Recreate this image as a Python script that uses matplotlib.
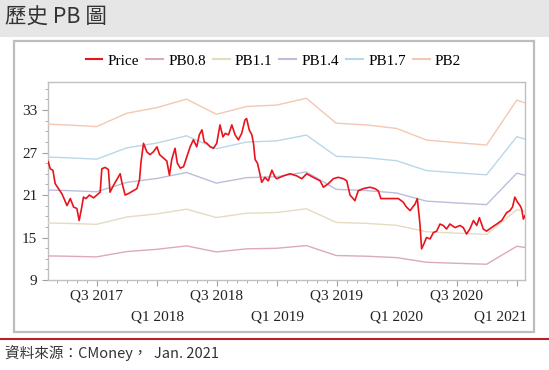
import matplotlib
matplotlib.use("Agg")
import matplotlib.pyplot as plt
import matplotlib.dates as mdates
import matplotlib.transforms as mtransforms
from matplotlib.patches import Rectangle
from matplotlib.lines import Line2D
from matplotlib.ticker import MultipleLocator
import pandas as pd

# price (roughly every 1-2 weeks)
price_dates = [
    "2017-02-03", "2017-02-09", "2017-02-17", "2017-02-24", "2017-03-06", "2017-03-16",
    "2017-03-21", "2017-04-01", "2017-04-11", "2017-04-21", "2017-05-01", "2017-05-08",
    "2017-05-16", "2017-05-21", "2017-05-29", "2017-06-08", "2017-06-21", "2017-07-01",
    "2017-07-11", "2017-07-16", "2017-07-26", "2017-08-05", "2017-08-10", "2017-08-21",
    "2017-08-31", "2017-09-10", "2017-09-15", "2017-09-25", "2017-10-05", "2017-10-16",
    "2017-10-31", "2017-11-08", "2017-11-12", "2017-11-20", "2017-11-30", "2017-12-10",
    "2017-12-20", "2017-12-31", "2018-01-08", "2018-01-20", "2018-01-30", "2018-02-07",
    "2018-02-14", "2018-02-24", "2018-03-03", "2018-03-12", "2018-03-22", "2018-04-01",
    "2018-04-11", "2018-04-21", "2018-05-01", "2018-05-09", "2018-05-17", "2018-05-24",
    "2018-06-01", "2018-06-11", "2018-06-21", "2018-07-01", "2018-07-11", "2018-07-20",
    "2018-07-27", "2018-08-06", "2018-08-16", "2018-08-26", "2018-09-05", "2018-09-15",
    "2018-09-25", "2018-09-30", "2018-10-08", "2018-10-16", "2018-10-21", "2018-10-26",
    "2018-11-02", "2018-11-08", "2018-11-15", "2018-11-25", "2018-12-05", "2018-12-16",
    "2018-12-26", "2018-12-31", "2019-01-20", "2019-02-09", "2019-03-02", "2019-03-17",
    "2019-04-01", "2019-04-21", "2019-05-12", "2019-05-22", "2019-06-06", "2019-06-21",
    "2019-07-06", "2019-07-22", "2019-08-01", "2019-08-11", "2019-08-26", "2019-09-05",
    "2019-09-20", "2019-10-11", "2019-10-26", "2019-11-05", "2019-11-13", "2019-12-01",
    "2019-12-21", "2020-01-05", "2020-01-20", "2020-01-30", "2020-02-10", "2020-02-18",
    "2020-02-25", "2020-03-03", "2020-03-11", "2020-03-16", "2020-03-23", "2020-03-31",
    "2020-04-11", "2020-04-21", "2020-05-01", "2020-05-11", "2020-05-21", "2020-05-31",
    "2020-06-10", "2020-06-26", "2020-07-11", "2020-07-21", "2020-07-31", "2020-08-10",
    "2020-08-21", "2020-08-31", "2020-09-08", "2020-09-20", "2020-09-30", "2020-10-15",
    "2020-10-31", "2020-11-15", "2020-11-30", "2020-12-10", "2020-12-18", "2020-12-25",
    "2021-01-02", "2021-01-10", "2021-01-15", "2021-01-20", "2021-01-25",
]
price = [
    25.7, 24.7, 24.5, 22.6, 21.9, 21.2,
    20.7, 19.5, 20.5, 19.3, 19.1, 17.4,
    19.3, 20.7, 20.5, 21.0, 20.6, 21.0,
    21.4, 24.7, 24.9, 24.6, 21.4, 22.4,
    23.2, 24.0, 22.8, 21.0, 21.2, 21.5,
    21.9, 23.2, 25.5, 28.3, 27.1, 26.7,
    27.1, 27.8, 26.7, 26.2, 25.8, 23.8,
    26.0, 27.6, 25.5, 24.8, 25.0, 26.4,
    27.8, 28.8, 27.8, 29.5, 30.2, 28.5,
    28.3, 27.8, 27.6, 28.3, 30.9, 29.2,
    29.7, 29.5, 30.9, 29.5, 28.8, 29.7,
    31.6, 31.8, 30.2, 29.5, 28.3, 26.0,
    25.5, 24.3, 22.8, 23.5, 23.0, 24.5,
    23.5, 23.3, 23.7, 24.0, 23.7, 23.3,
    24.0, 23.5, 23.0, 22.1, 22.6, 23.3,
    23.5, 23.3, 23.0, 21.0, 20.2, 21.6,
    21.9, 22.1, 21.9, 21.6, 20.5, 20.5,
    20.5, 20.5, 20.0, 19.3, 18.8, 19.3,
    19.7, 20.5, 16.9, 13.4, 14.1, 15.0,
    14.8, 15.7, 15.9, 16.9, 16.7, 16.2,
    16.9, 16.4, 16.7, 16.4, 15.5, 16.2,
    17.4, 16.7, 17.8, 16.2, 15.9, 16.4,
    16.9, 17.4, 18.5, 18.8, 19.3, 20.7,
    20.0, 19.5, 19.0, 17.6, 18.1,
]

# book value per share at quarter ends
bvps_dates = [
    "2017-02-03", "2017-03-31", "2017-06-30", "2017-09-30", "2017-12-31", "2018-03-31",
    "2018-06-30", "2018-09-30", "2018-12-31", "2019-03-31", "2019-06-30", "2019-09-30",
    "2019-12-31", "2020-03-31", "2020-06-30", "2020-09-30", "2020-12-31", "2021-01-25",
]
bvps = [15.5, 15.45, 15.33, 16.27, 16.67, 17.27, 16.2, 16.75, 16.85, 17.33, 15.57, 15.45,
        15.2, 14.38, 14.2, 14.03, 17.2, 17.0]

pb_multiples = [0.8, 1.1, 1.4, 1.7, 2]
pb_labels = ["PB0.8", "PB1.1", "PB1.4", "PB1.7", "PB2"]
pb_colors = ["#dcaab6", "#e4dcbf", "#b9bfdb", "#bad7e9", "#f3c8b2"]

y_ticks = [9, 15, 21, 27, 33]
tick_dates = ["2017-07-01", "2018-01-01", "2018-07-01", "2019-01-01", "2019-07-01",
              "2020-01-01", "2020-07-01", "2021-01-01"]
tick_labels = ["Q3 2017", "Q1 2018", "Q3 2018", "Q1 2019", "Q3 2019", "Q1 2020",
               "Q3 2020", "Q1 2021"]

serif = "Liberation Serif"
cjk = ["Noto Sans CJK TC", "DejaVu Sans"]

W, H = 549, 370
fig = plt.figure(figsize=(W / 100, H / 100), dpi=100)
fig.patch.set_facecolor("white")

# title bar
fig.add_artist(Rectangle((0, 1 - 36.7 / H), 1, 36.7 / H, transform=fig.transFigure,
                         facecolor="#e6e6e6", edgecolor="none", zorder=0))
fig.text(0.010, 1 - 17.5 / H, "歷史 PB 圖", family=cjk, fontsize=15.5,
         va="center", ha="left", color="#333333")

# chart frame
fig.add_artist(Rectangle((14 / W, 1 - 331.7 / H), 520 / W, 291 / H,
                         transform=fig.transFigure, facecolor="none",
                         edgecolor="#bdbdbd", linewidth=1.6, zorder=1))

# red divider and source
fig.add_artist(Line2D([0, 1], [1 - 338.5 / H] * 2, transform=fig.transFigure,
                      color="#b8202a", linewidth=1.5))
fig.text(0.009, 1 - 353.5 / H, "資料來源：CMoney，  Jan. 2021", family=cjk,
         fontsize=10.5, va="center", ha="left", color="#333333")

ax = fig.add_axes([48.3 / W, 1 - 280 / H, (525 - 48.3) / W, (280 - 81.7) / H])

pd_dates = pd.to_datetime(price_dates)
bv_dates = pd.to_datetime(bvps_dates)

ax.plot(pd_dates, price, color="#e8141c", linewidth=1.2, label="Price", zorder=5)
for m, lab, col in zip(pb_multiples, pb_labels, pb_colors):
    ax.plot(bv_dates, [m * b for b in bvps], color=col, linewidth=1.0, label=lab, zorder=3)

ax.set_xlim(pd.Timestamp("2017-02-03"), pd.Timestamp("2021-01-25"))
ax.set_ylim(9, 37)

ax.set_yticks(y_ticks)
ax.yaxis.set_minor_locator(MultipleLocator(1.5))
ax.set_xticks(pd.to_datetime(tick_dates))
ax.set_xticklabels(tick_labels)
ax.xaxis.set_minor_locator(mdates.MonthLocator())

ax.tick_params(axis="both", which="major", length=4, width=0.8, color="#a0a0a0", pad=3)
ax.tick_params(axis="both", which="minor", length=2.5, width=0.6, color="#a0a0a0")
ax.tick_params(axis="y", which="major", pad=4)
for sp in ax.spines.values():
    sp.set_color("#c0c0c0")
    sp.set_linewidth(1.0)

for lbl in ax.get_xticklabels() + ax.get_yticklabels():
    lbl.set_fontfamily(serif)
    lbl.set_fontsize(11)
    lbl.set_color("#222222")

# Q1 labels on a second row, last one kept inside the frame
xlabels = ax.get_xticklabels()
for i, lbl in enumerate(xlabels):
    if i % 2 == 1:
        dx = 0
        if i == len(xlabels) - 1:
            lbl.set_horizontalalignment("right")
            dx = 10 / 100
        lbl.set_transform(lbl.get_transform() +
                          mtransforms.ScaledTranslation(dx, -20.7 / 100, fig.dpi_scale_trans))

leg = fig.legend(loc="center", bbox_to_anchor=(0.498, 1 - 60.7 / H), ncol=6,
                 frameon=False, prop={"family": serif, "size": 11},
                 handlelength=1.1, handletextpad=0.35, columnspacing=0.45,
                 borderaxespad=0)
for h in leg.get_lines():
    h.set_linewidth(1.5)

fig.savefig("out.png", dpi=100)
